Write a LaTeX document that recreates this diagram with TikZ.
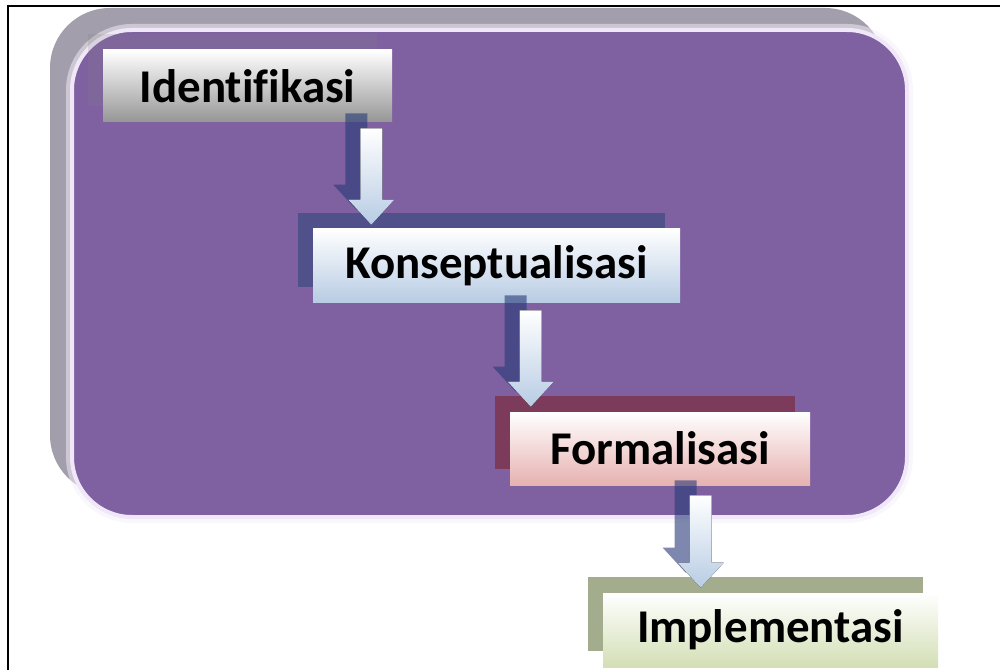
\documentclass[tikz,border=0pt]{standalone}
\usepackage{fontspec}
\setmainfont{Carlito}[Ligatures=NoCommon]
\usetikzlibrary{calc,shadows}
\definecolor{panelgrey}{RGB}{163,158,171}
\definecolor{panelviolet}{RGB}{127,97,162}
\definecolor{panelrim}{RGB}{240,232,248}
\definecolor{identlow}{RGB}{150,150,150}
\definecolor{konseplow}{RGB}{183,203,227}
\definecolor{konsepdark}{RGB}{80,80,138}
\definecolor{formallow}{RGB}{230,178,176}
\definecolor{formaldark}{RGB}{124,59,90}
\definecolor{impllow}{RGB}{211,223,181}
\definecolor{impldark}{RGB}{163,173,142}
\definecolor{arrowlow}{RGB}{184,204,228}
\definecolor{arrowdark}{RGB}{40,58,120}
\def\blockarrow[#1](#2)(#3){\fill[#1] ($(#2)+(-0.275,0)$) -- ($(#3)+(-0.275,0.625)$) -- ($(#3)+(-0.575,0.625)$) -- (#3) -- ($(#3)+(0.575,0.625)$) -- ($(#3)+(0.275,0.625)$) -- ($(#2)+(0.275,0)$) -- cycle;}

\begin{document}
\begin{tikzpicture}[
		stepbox/.style={inner sep=0pt, minimum height=1.85cm, text=black, font=\bfseries\fontsize{33.4}{40}\selectfont},
		boxshadow/.style={general shadow={shadow xshift=-0.375cm, shadow yshift=0.4cm, #1}},
		arrowbody/.style={top color=white, bottom color=arrowlow},
		arrowshade/.style={fill=arrowdark, opacity=0.6}
	]
		%%%%% START %%%%%
		
		\fill[white] (0, 0) rectangle (25, -16.75);
		\useasboundingbox (0, 0) rectangle (25, -16.75);
		\draw[line width=0.05cm] (0.2, -16.75) -- (0.2, -0.15) -- (25, -0.15);
		
		% rounded panel
		\fill[panelgrey, rounded corners=1.5cm] (1.25, -0.2) rectangle (22.125, -12.375);
		\draw[panelrim!60, line width=0.3cm, opacity=0.5, rounded corners=1.5cm] (1.8, -0.75) rectangle (22.675, -12.925);
		\draw[panelrim, line width=0.1cm, fill=panelviolet, rounded corners=1.5cm] (1.8, -0.75) rectangle (22.675, -12.925);
		
		% steps
		\node[stepbox, minimum width=7.225cm, minimum height=1.8cm, top color=white, bottom color=identlow, boxshadow={fill=gray, opacity=0.2}] (ident) at (6.1875, -2.15) {Identifikasi};
		\node[stepbox, minimum width=9.175cm, top color=white, bottom color=konseplow, boxshadow={fill=konsepdark}] (konsep) at (12.4125, -6.65) {Konseptualisasi};
		\node[stepbox, minimum width=7.5cm, minimum height=1.825cm, top color=white, bottom color=formallow, boxshadow={fill=formaldark}] (formal) at (16.5, -11.2125) {Formalisasi};
		\node[stepbox, minimum width=8.375cm, top color=white, bottom color=impllow, boxshadow={fill=impldark}] (impl) at (19.2625, -15.75) {Implementasi};
		
		% arrows between steps
		\coordinate (a1s) at ($(ident.south east)+(-0.525, -0.15)$);
		\coordinate (a1e) at ($(a1s |- konsep.north)+(0, 0.1)$);
		\coordinate (a2s) at ($(konsep.south -| formal.west)+(0.525, -0.175)$);
		\coordinate (a2e) at ($(a2s |- formal.north)+(0, 0.125)$);
		\coordinate (a3s) at ($(formal.south -| impl.west)+(2.45, -0.25)$);
		\coordinate (a3e) at ($(a3s |- impl.north)+(0, 0.125)$);
		
		\begin{scope}[transform canvas={shift={(-0.375, 0.375)}}]
			\blockarrow[arrowshade](a1s)(a1e);
			\blockarrow[arrowshade](a2s)(a2e);
			\blockarrow[arrowshade](a3s)(a3e);
		\end{scope}
		\blockarrow[arrowbody](a1s)(a1e);
		\blockarrow[arrowbody](a2s)(a2e);
		\blockarrow[arrowbody](a3s)(a3e);
		
		%%%%% END %%%%%
\end{tikzpicture}
\end{document}
